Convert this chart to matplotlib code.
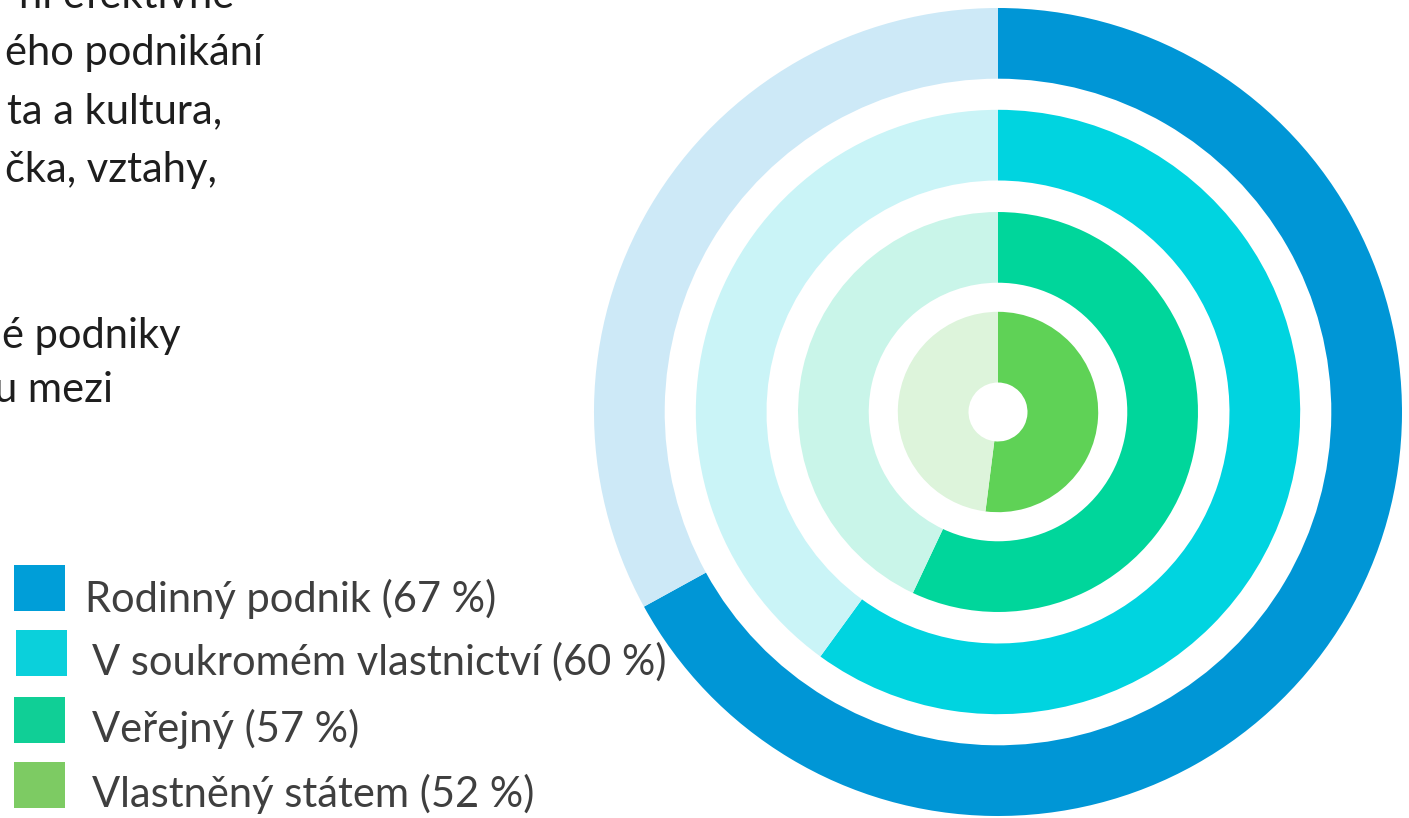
import matplotlib.pyplot as plt
from matplotlib.patches import Rectangle

# data
labels = ['Rodinný podnik (67 %)', 'V soukromém vlastnictví (60 %)',
          'Veřejný (57 %)', 'Vlastněný státem (52 %)']
values = [67, 60, 57, 52]
ring_colors = ['#0096D6', '#00D4E0', '#00D69B', '#5FD256']
bg_colors = ['#CDE9F7', '#CAF4F7', '#C9F5E9', '#DDF4DB']
legend_colors = ['#009ED8', '#0BD0DB', '#10CF96', '#7DCB63']
# cropped paragraph on the left (only line ends are visible)
para_lines = ['ní efektivně', 'ého podnikání', 'ta a kultura,',
              'čka, vztahy,', 'é podniky', 'u mezi']

W, H = 1409, 818
fig = plt.figure(figsize=(W / 100, H / 100), dpi=100)
plt.rcParams['font.family'] = ['Lato', 'DejaVu Sans']

cx, cy, R = 998, 412, 404
ax = fig.add_axes([(cx - R) / W, (H - cy - R) / H, 2 * R / W, 2 * R / H])
outer_r = [1.0, 0.748, 0.495, 0.248]
ring_w = 0.175
for v, r, c, bg in zip(values, outer_r, ring_colors, bg_colors):
    ax.pie([v, 100 - v], radius=r, startangle=90, counterclock=False,
           colors=[c, bg], wedgeprops=dict(width=ring_w, linewidth=0))
ax.set_xlim(-1, 1)
ax.set_ylim(-1, 1)
ax.set_aspect('equal')
ax.axis('off')

# paragraph fragments, right-aligned at the ends seen in the picture
ends = [234, 263, 222, 217, 181, 113]
base = [8, 65, 123, 182, 348, 402]
for t, xe, yb in zip(para_lines, ends, base):
    fig.text(xe / W, 1 - yb / H, t, ha='right', va='baseline',
             fontsize=30, color='#1E1E1E')

# legend
sq = [(14, 565), (16, 630), (14, 697), (14, 762)]
tx = [85, 92, 92, 92]
tb = [612, 675, 742, 807]
for lab, col, (sx, sy), x, yb in zip(labels, legend_colors, sq, tx, tb):
    fig.patches.append(Rectangle((sx / W, 1 - (sy + 46) / H), 51 / W, 46 / H,
                                 transform=fig.transFigure, color=col, lw=0))
    fig.text(x / W, 1 - yb / H, lab, ha='left', va='baseline',
             fontsize=30, color='#3F3F3F')

fig.savefig('out.png', dpi=100)
